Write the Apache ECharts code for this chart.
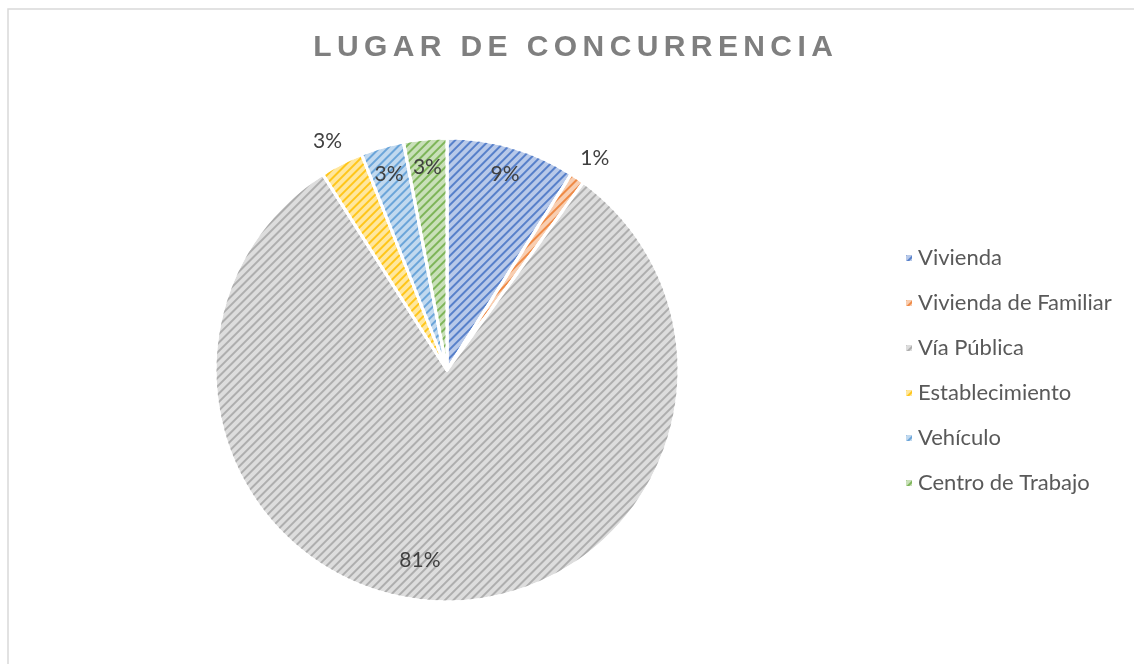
<!DOCTYPE html>
<html>
<head>
<meta charset="utf-8">
<title>Lugar de concurrencia</title>
<script src="https://cdn.jsdelivr.net/npm/echarts@6/dist/echarts.min.js"></script>
<style>
  html, body { margin: 0; padding: 0; background: #fff; }
  #chart { width: 1134px; height: 664px; }
</style>
</head>
<body>
<div id="chart"></div>
<script>
// datos
var titulo = 'LUGAR DE CONCURRENCIA';
var lugares = ['Vivienda', 'Vivienda de Familiar', 'Vía Pública', 'Establecimiento', 'Vehículo', 'Centro de Trabajo'];
var porcentajes = [9, 1, 81, 3, 3, 3];

// colores tipo Office
var colores = ['#4472C4', '#ED7D31', '#A5A5A5', '#FFC000', '#5B9BD5', '#70AD47'];

var chart = echarts.init(document.getElementById('chart'));

// aclarar un color hacia blanco
function aclarar(hex, f) {
	var n = parseInt(hex.slice(1), 16);
	var r = n >> 16, g = (n >> 8) & 255, b = n & 255;
	r = Math.round(r + (255 - r) * f);
	g = Math.round(g + (255 - g) * f);
	b = Math.round(b + (255 - b) * f);
	return 'rgb(' + r + ',' + g + ',' + b + ')';
}

// titulo con espaciado entre letras (cada letra es un fragmento rich)
var tituloRich = titulo.split('').map(function(ch) {
	return '{c|' + ch + '}';
}).join('');

var CENTRO = [447, 370];

// serie principal con trama diagonal
var datosPie = lugares.map(function(nombre, i) {
	return {
		name: nombre,
		value: porcentajes[i],
		itemStyle: {
			color: aclarar(colores[i], 0.62),
			decal: {
				symbol: 'rect',
				symbolSize: 1,
				dashArrayX: [1, 0],
				dashArrayY: [2, 4],
				rotation: -Math.PI / 4,
				color: aclarar(colores[i], 0.1)
			}
		}
	};
});

// series transparentes solo para colocar las etiquetas a cierta distancia del centro
function anilloEtiquetas(radio, visibles, ajuste) {
	return {
		type: 'pie',
		center: CENTRO,
		radius: [0, radio],
		silent: true,
		legendHoverLink: false,
		z: 5,
		itemStyle: { color: 'rgba(0,0,0,0)', borderWidth: 0 },
		labelLine: { show: false },
		emphasis: { disabled: true },
		labelLayout: ajuste,
		data: lugares.map(function(nombre, i) {
			return {
				name: nombre,
				value: porcentajes[i],
				label: { show: visibles.indexOf(i) >= 0 }
			};
		}),
		label: {
			position: 'inside',
			formatter: '{c}%',
			fontFamily: 'Lato',
			fontSize: 21,
			color: '#404040'
		}
	};
}

var option = {
	backgroundColor: '#fff',
	animation: false,
	graphic: [{
		type: 'rect',
		silent: true,
		shape: { x: 8, y: 9, width: 1140, height: 670 },
		style: { fill: 'none', stroke: '#d9d9d9', lineWidth: 1.5 }
	}],
	title: {
		text: tituloRich,
		left: 568,
		top: 28,
		textAlign: 'center',
		textStyle: {
			rich: {
				c: {
					fontFamily: 'Liberation Sans',
					fontWeight: 'bold',
					fontSize: 30,
					color: '#7f7f7f',
					padding: [0, 2.7, 0, 2.7]
				}
			}
		}
	},
	legend: {
		orient: 'vertical',
		left: 899,
		top: 242,
		icon: 'rect',
		itemWidth: 8,
		itemHeight: 8,
		itemGap: 23,
		data: lugares,
		textStyle: {
			fontFamily: 'Lato',
			fontSize: 22,
			color: '#595959'
		}
	},
	series: [{
		type: 'pie',
		center: CENTRO,
		radius: [0, 232],
		startAngle: 90,
		clockwise: true,
		label: { show: false },
		labelLine: { show: false },
		itemStyle: { borderColor: '#fff', borderWidth: 3 },
		data: datosPie
	},
		anilloEtiquetas(410, [0, 4, 5], { dy: 4 }),
		anilloEtiquetas(378, [2], { dx: -21, dy: -2 }),
		anilloEtiquetas(520, [1, 3], { dy: 6 })
	]
};

chart.setOption(option);
</script>
</body>
</html>
